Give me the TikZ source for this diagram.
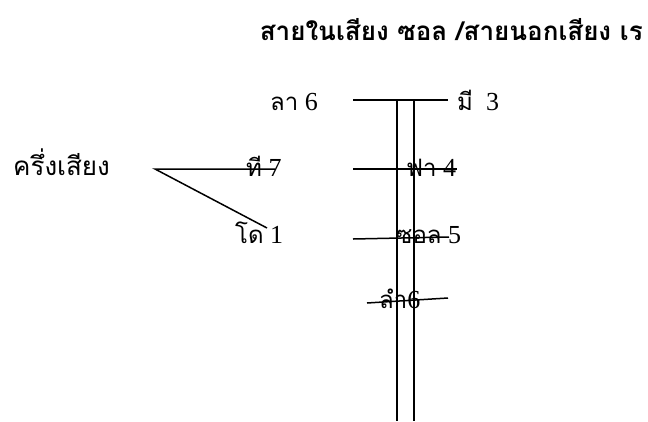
\documentclass[tikz,border=0pt]{standalone}
\usepackage{fontspec}
\setmainfont{Liberation Serif}
\newfontfamily\thai[Script=Thai]{Loma}
\newcommand{\dg}[1]{{\rmfamily\fontsize{26}{29}\selectfont #1}}
\tikzset{
  lbl/.style={anchor=base west, inner sep=0pt, font=\fontsize{24}{27}\selectfont},
  ln/.style={line width=1.5pt}
}
\begin{document}
\begin{tikzpicture}[x=1pt,y=-1pt]
\useasboundingbox (0,0) rectangle (648,421);
% title
\node[anchor=base east, inner sep=0pt, font=\fontsize{26}{30}\selectfont\bfseries] (title) at (643,40) {\thai สายในเสียง ซอล /สายนอกเสียง เร};
% labels
\node[lbl] (la) at (270,110) {\thai ลา\dg{\ 6}};
\node[lbl] (mi) at (457,110) {\thai มี\dg{\ \ 3}};
\node[lbl, font=\fontsize{26}{30}\selectfont] (half) at (13,175) {\thai ครึ่งเสียง};
\node[lbl] (ti) at (246,176) {\thai ที\dg{\ 7}};
\node[lbl] (fa) at (406,176) {\thai ฟา\dg{\ 4}};
\node[lbl] (do) at (235,243) {\thai โด\dg{\ 1}};
\node[lbl] (sol) at (396,243) {\thai ซอล\dg{\ 5}};
\node[lbl] (lam) at (379,308) {\thai ลำ\dg{6}};
% coordinates
\coordinate (t1) at (353,100); \coordinate (t2) at (448,100);
\coordinate (v1a) at (397,100); \coordinate (v1b) at (397,421);
\coordinate (v2a) at (414,100); \coordinate (v2b) at (414,421);
\coordinate (f1) at (353,169); \coordinate (f2) at (457,169);
\coordinate (s1) at (353,239); \coordinate (s2) at (449,237);
\coordinate (l1) at (367,303); \coordinate (l2) at (448,298);
\coordinate (h0) at (155,169); \coordinate (h1) at (275,169); \coordinate (h2) at (267,228);
% lines
\draw[ln] (t1) -- (t2);
\draw[ln] (v1a) -- (v1b);
\draw[ln] (v2a) -- (v2b);
\draw[ln] (f1) -- (f2);
\draw[ln] (s1) -- (s2);
\draw[ln] (l1) -- (l2);
\draw[ln] (h1) -- (h0) -- (h2);
\end{tikzpicture}
\end{document}
